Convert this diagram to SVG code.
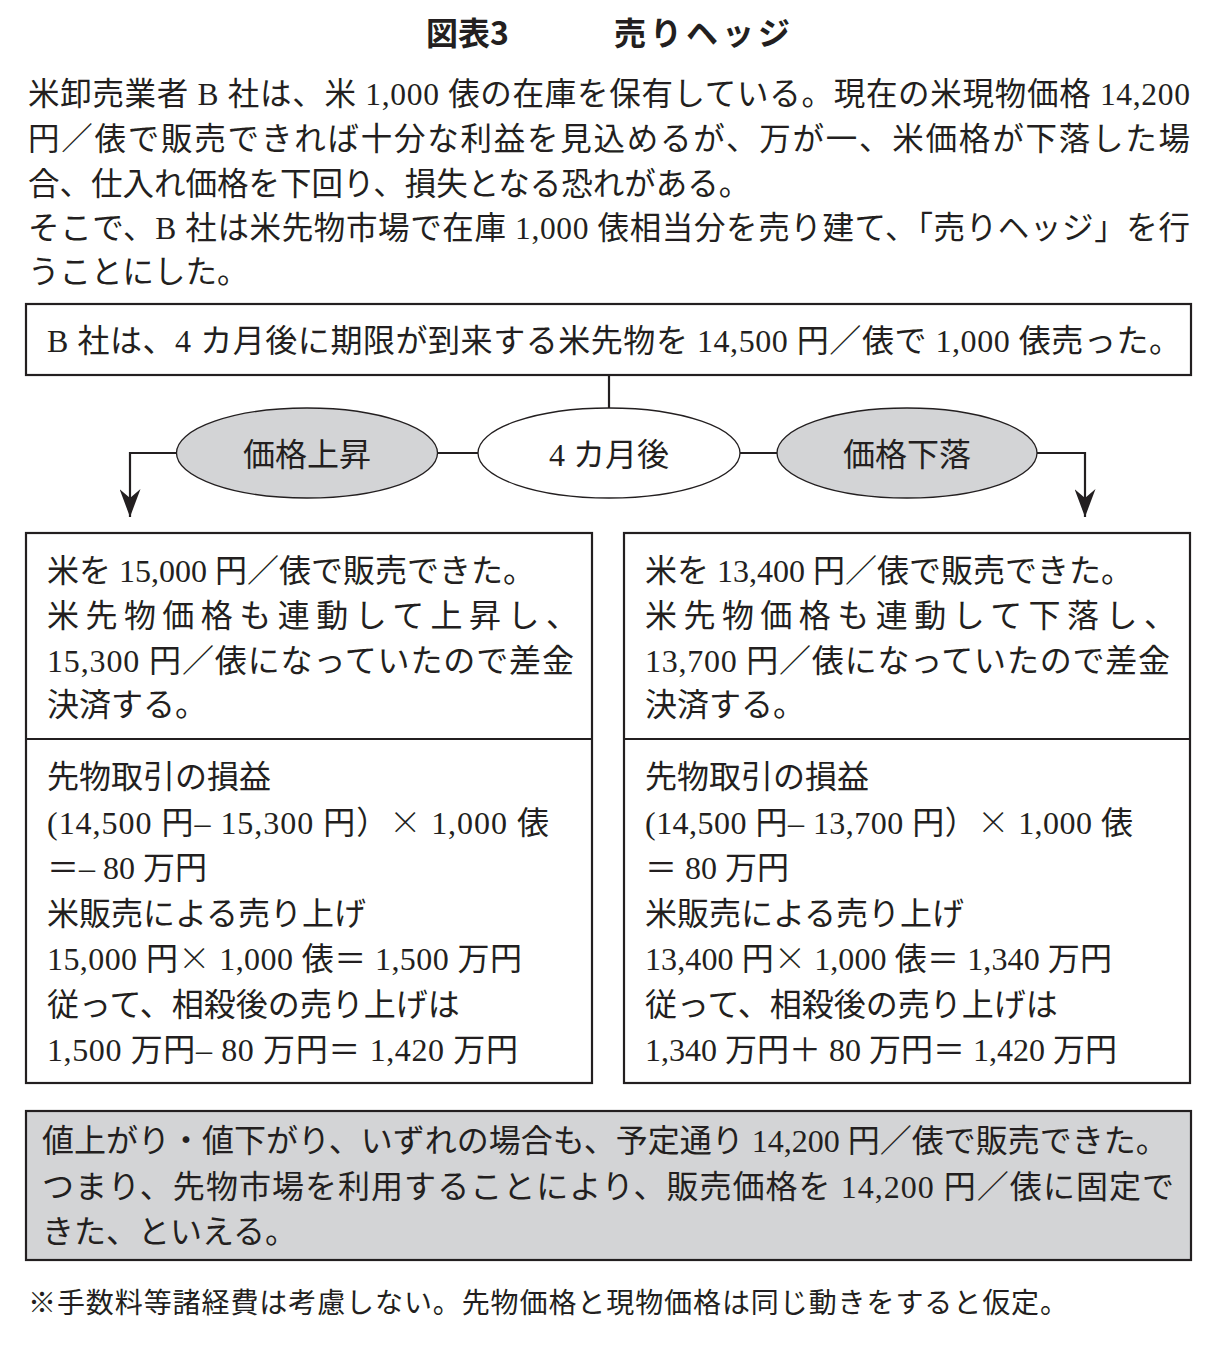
<svg xmlns="http://www.w3.org/2000/svg" width="1218" height="1365" viewBox="0 0 1218 1365">
<style>
.m{font-family:"Liberation Serif","Noto Sans CJK JP",serif;font-size:32px;fill:#231f20}
.p{font-size:31.5px}
.g{font-family:"Noto Sans CJK JP","Noto Sans",sans-serif;fill:#231f20}
.x{font-family:"Noto Sans CJK JP",sans-serif;font-weight:300}
.box{fill:#fff;stroke:#231f20;stroke-width:2.2}
.ln{fill:none;stroke:#231f20;stroke-width:2.2}
.ell{stroke:#231f20;stroke-width:1.3}
.mid{text-anchor:middle}
</style>
<defs>
<marker id="ah" viewBox="0 0 28 21" refX="28" refY="10.5" markerWidth="28" markerHeight="21" markerUnits="userSpaceOnUse" orient="auto">
<path d="M0,0 L28,10.5 L0,21 L9,10.5 Z" fill="#231f20"/>
</marker>
</defs>
<rect width="1218" height="1365" fill="#fff"/>

<g id="title">
<text class="g" x="426" y="45" font-size="32" font-weight="700">図表3</text>
<text class="g" x="614" y="45" font-size="32" font-weight="700" textLength="176" lengthAdjust="spacing">売りヘッジ</text>
</g>

<g id="intro">
<text class="m p" x="28" y="105" textLength="1162" lengthAdjust="spacing">米卸売業者 B 社は、米 1,000 俵の在庫を保有している。現在の米現物価格 14,200</text>
<text class="m p" x="28" y="150" textLength="1162" lengthAdjust="spacing">円／俵で販売できれば十分な利益を見込めるが、万が一、米価格が下落した場</text>
<text class="m p" x="28" y="195">合、仕入れ価格を下回り、損失となる恐れがある。</text>
<text class="m p" x="28" y="239" textLength="1162" lengthAdjust="spacing">そこで、B 社は米先物市場で在庫 1,000 俵相当分を売り建て、「売りヘッジ」を行</text>
<text class="m p" x="28" y="283">うことにした。</text>
</g>

<g id="connectors">
<line class="ln" x1="609" y1="375" x2="609" y2="408"/>
<line class="ln" x1="438" y1="453" x2="478" y2="453"/>
<line class="ln" x1="740" y1="453" x2="778" y2="453"/>
<polyline class="ln" points="177,453 130,453 130,517" marker-end="url(#ah)"/>
<polyline class="ln" points="1037,453 1085,453 1085,517" marker-end="url(#ah)"/>
</g>

<g id="sell-box">
<rect class="box" x="26" y="304" width="1165" height="71"/>
<text class="m" x="47" y="352" textLength="1134" lengthAdjust="spacing">B 社は、4 カ月後に期限が到来する米先物を 14,500 円／俵で 1,000 俵売った。</text>
</g>

<g id="rise">
<ellipse class="ell" cx="307" cy="453" rx="130.5" ry="45" fill="#d3d4d6"/>
<text class="m mid" x="307" y="466">価格上昇</text>
</g>
<g id="after4">
<ellipse class="ell" cx="609" cy="453" rx="131" ry="45" fill="#fff"/>
<text class="m mid" x="609" y="466">4 カ月後</text>
</g>
<g id="fall">
<ellipse class="ell" cx="907" cy="453" rx="130" ry="45" fill="#d3d4d6"/>
<text class="m mid" x="907" y="466">価格下落</text>
</g>

<g id="left-box">
<rect class="box" x="26" y="533" width="566" height="550"/>
<line class="ln" x1="26" y1="739" x2="592" y2="739"/>
<text class="m" x="47" y="582">米を 15,000 円／俵で販売できた。</text>
<text class="m" x="47" y="627" textLength="531" lengthAdjust="spacing">米先物価格も連動して上昇し、</text>
<text class="m" x="47" y="672" textLength="527" lengthAdjust="spacing">15,300 円／俵になっていたので差金</text>
<text class="m" x="47" y="716">決済する。</text>
<text class="m" x="47" y="788">先物取引の損益</text>
<text class="m" x="47" y="834" textLength="502" lengthAdjust="spacing">(14,500 円– 15,300 円）<tspan class="x">×</tspan> 1,000 俵</text>
<text class="m" x="47" y="879">＝– 80 万円</text>
<text class="m" x="47" y="925">米販売による売り上げ</text>
<text class="m" x="47" y="970" textLength="475" lengthAdjust="spacing">15,000 円<tspan class="x">×</tspan> 1,000 俵＝ 1,500 万円</text>
<text class="m" x="47" y="1016">従って、相殺後の売り上げは</text>
<text class="m" x="47" y="1061" textLength="471" lengthAdjust="spacing">1,500 万円– 80 万円＝ 1,420 万円</text>
</g>

<g id="right-box">
<rect class="box" x="624" y="533" width="566" height="550"/>
<line class="ln" x1="624" y1="739" x2="1190" y2="739"/>
<text class="m" x="645" y="582">米を 13,400 円／俵で販売できた。</text>
<text class="m" x="645" y="627" textLength="531" lengthAdjust="spacing">米先物価格も連動して下落し、</text>
<text class="m" x="645" y="672" textLength="525" lengthAdjust="spacing">13,700 円／俵になっていたので差金</text>
<text class="m" x="645" y="716">決済する。</text>
<text class="m" x="645" y="788">先物取引の損益</text>
<text class="m" x="645" y="834" textLength="488" lengthAdjust="spacing">(14,500 円– 13,700 円）<tspan class="x">×</tspan> 1,000 俵</text>
<text class="m" x="645" y="879">＝ 80 万円</text>
<text class="m" x="645" y="925">米販売による売り上げ</text>
<text class="m" x="645" y="970" textLength="467" lengthAdjust="spacing">13,400 円<tspan class="x">×</tspan> 1,000 俵＝ 1,340 万円</text>
<text class="m" x="645" y="1016">従って、相殺後の売り上げは</text>
<text class="m" x="645" y="1061" textLength="472" lengthAdjust="spacing">1,340 万円＋ 80 万円＝ 1,420 万円</text>
</g>

<g id="summary">
<rect x="26" y="1111" width="1165" height="149" fill="#d3d4d6" stroke="#231f20" stroke-width="2.2"/>
<text class="m" x="42" y="1152">値上がり・値下がり、いずれの場合も、予定通り 14,200 円／俵で販売できた。</text>
<text class="m" x="42" y="1198" textLength="1132" lengthAdjust="spacing">つまり、先物市場を利用することにより、販売価格を 14,200 円／俵に固定で</text>
<text class="m" x="42" y="1243">きた、といえる。</text>
</g>

<g id="footnote">
<text class="g" x="28" y="1313" font-size="28" textLength="1040" lengthAdjust="spacing">※手数料等諸経費は考慮しない。先物価格と現物価格は同じ動きをすると仮定。</text>
</g>
</svg>
